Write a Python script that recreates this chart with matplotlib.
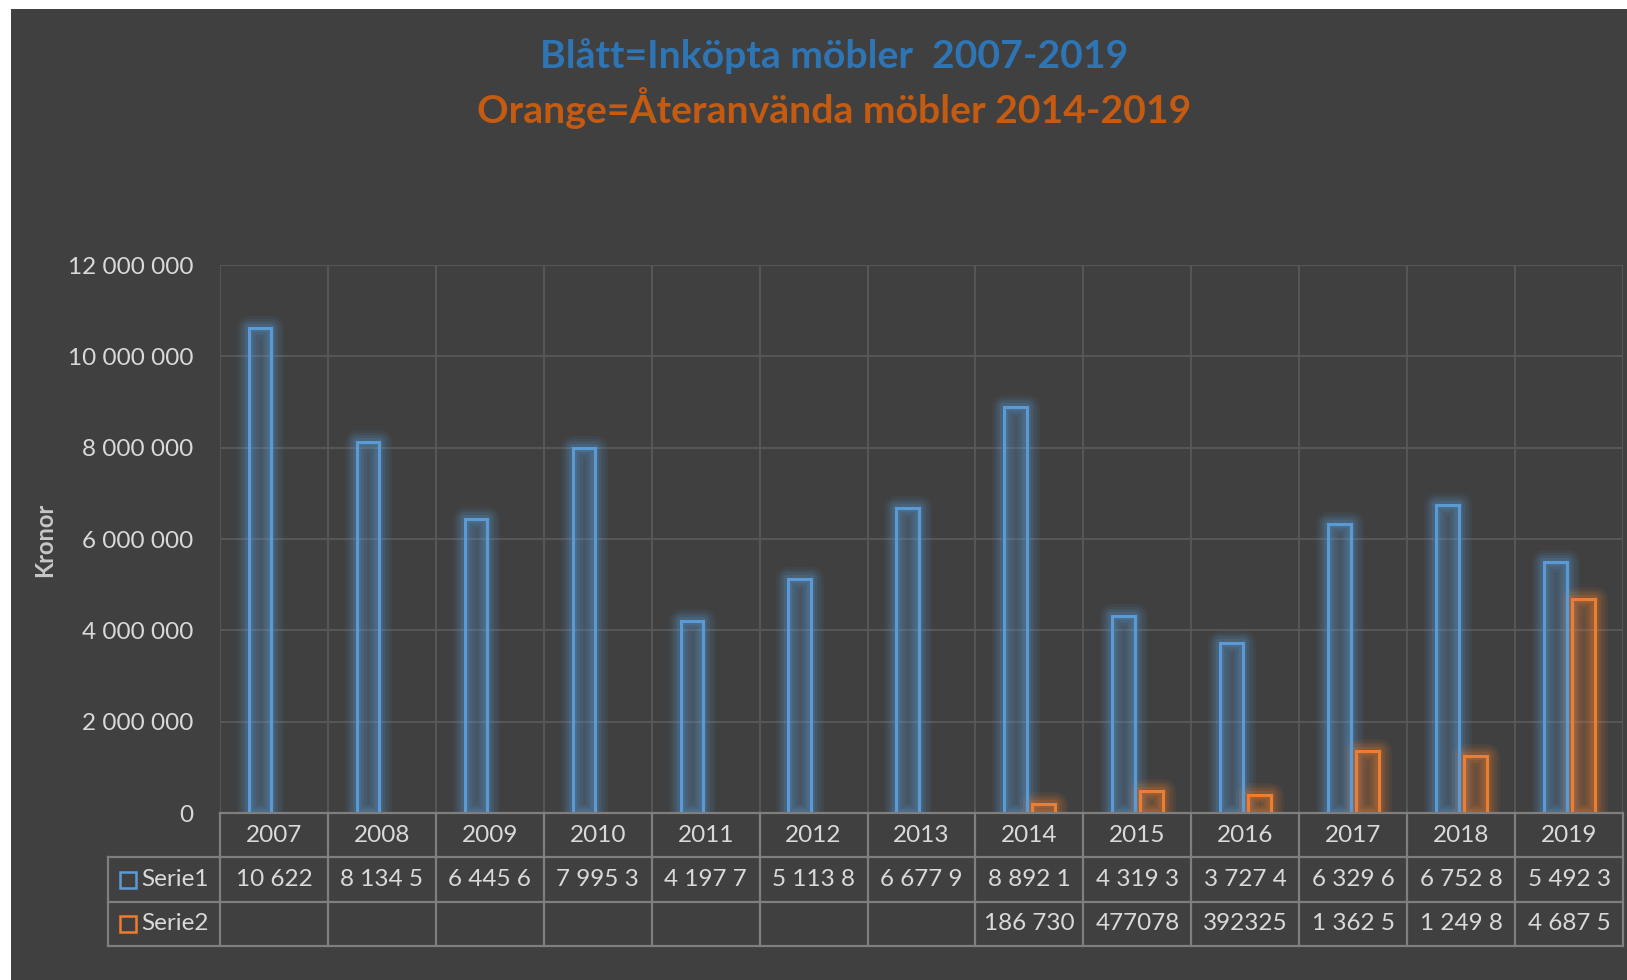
import numpy as np
import matplotlib
matplotlib.use("Agg")
import matplotlib.pyplot as plt
from matplotlib.patches import Rectangle

# ---------------- data ----------------
years = ["2007", "2008", "2009", "2010", "2011", "2012", "2013",
         "2014", "2015", "2016", "2017", "2018", "2019"]
serie1 = [10622000, 8134500, 6445600, 7995300, 4197700, 5113800, 6677900,
          8892100, 4319300, 3727400, 6329600, 6752800, 5492300]
serie2 = [np.nan, np.nan, np.nan, np.nan, np.nan, np.nan, np.nan,
          186730, 477078, 392325, 1362500, 1249800, 4687500]
serie_names = ["Serie1", "Serie2"]
serie1_cells = ["10 622", "8 134 5", "6 445 6", "7 995 3", "4 197 7", "5 113 8", "6 677 9",
                "8 892 1", "4 319 3", "3 727 4", "6 329 6", "6 752 8", "5 492 3"]
serie2_cells = ["", "", "", "", "", "", "",
                "186 730", "477078", "392325", "1 362 5", "1 249 8", "4 687 5"]
yticks = [0, 2000000, 4000000, 6000000, 8000000, 10000000, 12000000]
title_line1 = "Blått=Inköpta möbler  2007-2019"
title_line2 = "Orange=Återanvända möbler 2014-2019"
ylabel = "Kronor"

# ---------------- style ----------------
BG = "#404040"
GRID = "#595959"
TBL = "#7f7f7f"
TXT = "#d9d9d9"
BLUE = "#5B9BD5"
ORANGE = "#ED7D31"
TBLUE = "#2E75B6"
TORANGE = "#C55A11"
FONT = ["Lato", "DejaVu Sans"]
FS = 17.5

W, H = 1627, 980
fig = plt.figure(figsize=(W / 100, H / 100), dpi=100, facecolor="white")
fig.add_artist(Rectangle((11 / W, 0), 1 - 11 / W, 1 - 9 / H, transform=fig.transFigure,
                         facecolor=BG, edgecolor="none", zorder=0))

# plot area
L, R, T, B = 220, 1623, 265, 813
ax = fig.add_axes([L / W, 1 - B / H, (R - L) / W, (B - T) / H])
ax.set_facecolor("none")
n = len(years)
ax.set_xlim(-0.5, n - 0.5)
ax.set_ylim(yticks[0], yticks[-1])
for s in ax.spines.values():
    s.set_visible(False)
for yv in yticks[1:]:
    ax.axhline(yv, color=GRID, lw=1.3, zorder=1)
for k in range(n + 1):
    ax.axvline(k - 0.5, color=GRID, lw=1.3, zorder=1)

x = np.arange(n)
w = 0.21
off = 0.128

def glow_bars(xs, vals, col):
    xs = np.asarray(xs, float)
    vals = np.asarray(vals, float)
    m = ~np.isnan(vals)
    xs, vals = xs[m], vals[m]
    for lw, a in [(18, 0.07), (14, 0.09), (10, 0.12), (6, 0.18)]:
        ax.bar(xs, vals, w, facecolor="none", edgecolor=col, lw=lw, alpha=a,
               zorder=2, joinstyle="round")
    ax.bar(xs, vals, w, facecolor=matplotlib.colors.to_rgba(col, 0.18),
           edgecolor=col, lw=2.2, zorder=3)

glow_bars(x - off, serie1, BLUE)
glow_bars(x + off + 0.005, serie2, ORANGE)

ax.set_xticks([])
ax.set_yticks(yticks)
ax.set_yticklabels([f"{v:,}".replace(",", " ") for v in yticks],
                   family=FONT, fontsize=FS, color=TXT)
ax.tick_params(axis="y", length=0, pad=19)

# y label
fig.text(45 / W, 1 - 540 / H, ylabel, rotation=90, ha="center", va="center",
         family=FONT, fontweight="bold", fontsize=17, color="#c8c8c8")

# data table
TB = 946
tax = fig.add_axes([L / W, 1 - TB / H, (R - L) / W, (TB - B) / H])
tax.set_xlim(-0.5, n - 0.5)
tax.set_ylim(3, 0)
tax.axis("off")
colw = (R - L) / n
xl = -0.5 - (L - 108) / colw
lk = dict(color=TBL, lw=1.6, clip_on=False, solid_capstyle="projecting")
tax.plot([-0.5, n - 0.5], [0, 0], **lk)
for r in (1, 2, 3):
    tax.plot([xl, n - 0.5], [r, r], **lk)
for k in range(n + 1):
    tax.plot([k - 0.5, k - 0.5], [0, 3], **lk)
tax.plot([xl, xl], [1, 3], **lk)

tk = dict(ha="center", va="center", family=FONT, fontsize=FS, color=TXT, clip_on=False)
for i in range(n):
    tax.text(i, 0.5, years[i], **tk)
    tax.text(i, 1.5, serie1_cells[i], **tk)
    tax.text(i, 2.5, serie2_cells[i], **tk)

mx = -0.5 - (L - 128) / colw
lx = -0.5 - (L - 141) / colw
for r, (name, col) in enumerate(zip(serie_names, [BLUE, ORANGE])):
    tax.plot([mx], [r + 1.5], marker="s", markersize=11, mfc="none", mec=col, mew=1.8,
             clip_on=False)
    tax.text(lx, r + 1.5, name, ha="left", va="center", family=FONT, fontsize=FS,
             color=TXT, clip_on=False)

# title
cx = 834 / W
t1 = fig.text(cx, 1 - 68 / H, title_line1, ha="center", va="baseline", family=FONT,
              fontweight="bold", fontsize=28, color=TBLUE)
t2 = fig.text(cx, 1 - 123 / H, title_line2, ha="center", va="baseline", family=FONT,
              fontweight="bold", fontsize=28, color=TORANGE)
fig.canvas.draw()
wid = t2.get_window_extent().width
fs = 28 * 715 / wid
t1.set_fontsize(fs)
t2.set_fontsize(fs)

fig.savefig("out.png", dpi=100, facecolor="white")
